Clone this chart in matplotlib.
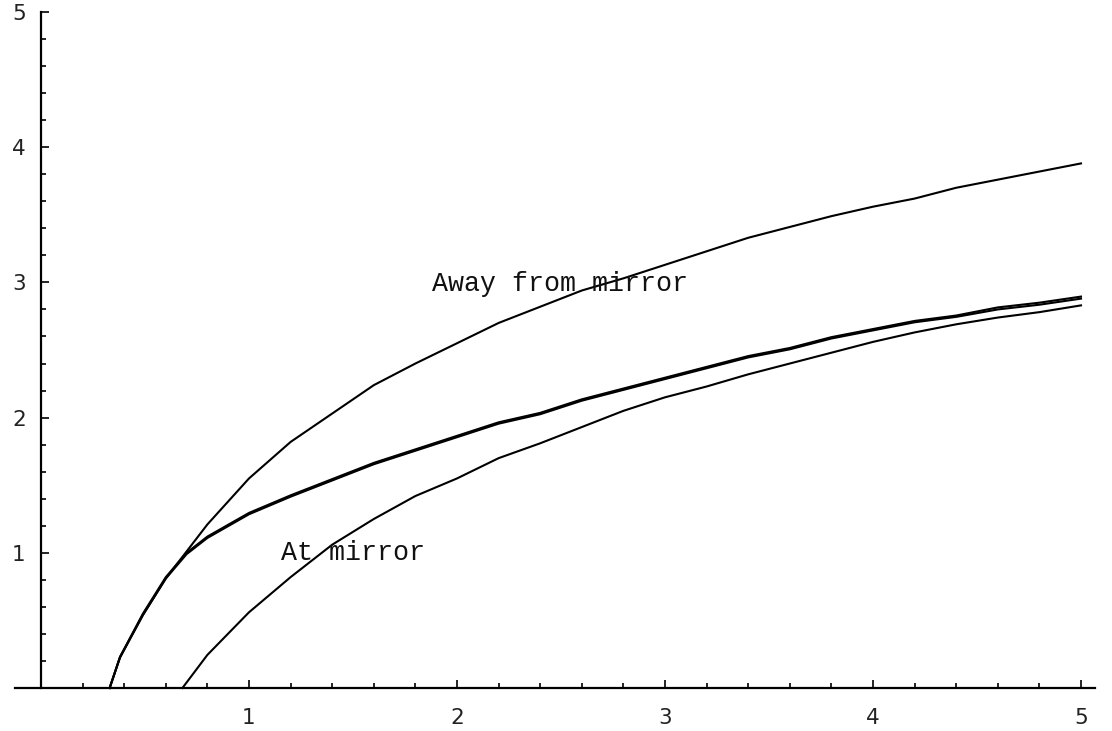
import matplotlib
matplotlib.use("Agg")
import matplotlib.pyplot as plt
from matplotlib.ticker import FixedLocator

# ---- data ----
x_top = [0.33, 0.38, 0.49, 0.60, 0.80, 1.00, 1.20, 1.40, 1.60, 1.80, 2.00, 2.20, 2.40,
         2.60, 2.80, 3.00, 3.20, 3.40, 3.60, 3.80, 4.00, 4.20, 4.40, 4.60, 4.80, 5.00]
y_top = [0.00, 0.23, 0.54, 0.81, 1.21, 1.55, 1.82, 2.03, 2.24, 2.40, 2.55, 2.70, 2.82,
         2.94, 3.03, 3.13, 3.23, 3.33, 3.41, 3.49, 3.56, 3.62, 3.70, 3.76, 3.82, 3.88]

x_mid = [0.33, 0.38, 0.49, 0.60, 0.70, 0.80, 1.00, 1.20, 1.40, 1.60, 1.80, 2.00, 2.20, 2.40,
         2.60, 2.80, 3.00, 3.20, 3.40, 3.60, 3.80, 4.00, 4.20, 4.40, 4.60, 4.80, 5.00]
y_mid1 = [0.00, 0.23, 0.55, 0.82, 1.00, 1.12, 1.295, 1.425, 1.545, 1.665, 1.765, 1.865, 1.965, 2.035,
          2.135, 2.215, 2.295, 2.375, 2.455, 2.515, 2.595, 2.655, 2.715, 2.755, 2.815, 2.85, 2.895]
y_mid2 = [0.00, 0.225, 0.54, 0.81, 0.99, 1.11, 1.285, 1.415, 1.535, 1.655, 1.755, 1.855, 1.955, 2.025,
          2.125, 2.205, 2.285, 2.365, 2.445, 2.505, 2.585, 2.645, 2.705, 2.745, 2.80, 2.835, 2.88]

x_bot = [0.68, 0.80, 1.00, 1.20, 1.40, 1.60, 1.80, 2.00, 2.20, 2.40, 2.60, 2.80, 3.00,
         3.20, 3.40, 3.60, 3.80, 4.00, 4.20, 4.40, 4.60, 4.80, 5.00]
y_bot = [0.00, 0.245, 0.56, 0.82, 1.06, 1.25, 1.42, 1.55, 1.70, 1.81, 1.93, 2.05, 2.15,
         2.23, 2.32, 2.40, 2.48, 2.56, 2.63, 2.69, 2.74, 2.78, 2.83]

label_away = "Away from mirror"
label_at = "At mirror"
major_ticks = [1, 2, 3, 4, 5]
tick_labels = ["1", "2", "3", "4", "5"]

# ---- figure ----
fig = plt.figure(figsize=(11.12, 7.31), dpi=100)
W, H = 1112, 731
x0_px, sx = 41.0, 208.0
y0_px, sy = 688.0, 135.2
xmin, xmax = -0.125, 5.065
ymin, ymax = 0.0, 5.0
left = (x0_px + xmin * sx) / W
width = (xmax - xmin) * sx / W
bottom = (H - y0_px) / H
height = (ymax - ymin) * sy / H
ax = fig.add_axes([left, bottom, width, height])
ax.set_xlim(xmin, xmax)
ax.set_ylim(ymin, ymax)

lw = 1.5
ax.plot(x_top, y_top, color="black", lw=lw, clip_on=False)
ax.plot(x_mid, y_mid1, color="black", lw=lw, clip_on=False)
ax.plot(x_mid, y_mid2, color="black", lw=lw, clip_on=False)
ax.plot(x_bot, y_bot, color="black", lw=lw, clip_on=False)

mono = ["Liberation Mono", "DejaVu Sans Mono"]
ax.text(1.88, 2.99, label_away, family=mono, fontsize=19.2, va="center", ha="left",
        color="#111111")
ax.text(1.155, 1.0, label_at, family=mono, fontsize=19.2, va="center", ha="left",
        color="#111111")

# spines
for s in ["top", "right"]:
    ax.spines[s].set_visible(False)
ax.spines["left"].set_position(("data", 0))
ax.spines["bottom"].set_position(("data", 0))
ax.spines["left"].set_linewidth(1.6)
ax.spines["bottom"].set_linewidth(1.6)

minor = [i * 0.2 for i in range(1, 26) if i % 5 != 0]
ax.xaxis.set_major_locator(FixedLocator(major_ticks))
ax.yaxis.set_major_locator(FixedLocator(major_ticks))
ax.xaxis.set_minor_locator(FixedLocator(minor))
ax.yaxis.set_minor_locator(FixedLocator(minor))
ax.set_xticklabels(tick_labels)
ax.set_yticklabels(tick_labels)

ax.tick_params(axis="both", which="major", direction="in", length=5.5, width=1.2,
               labelsize=15.5, labelcolor="#222222")
ax.tick_params(axis="both", which="minor", direction="in", length=3.6, width=1.2)
ax.tick_params(axis="x", which="major", pad=14.5)
ax.tick_params(axis="y", which="major", pad=11)
for lab in ax.get_xticklabels() + ax.get_yticklabels():
    lab.set_family("DejaVu Sans")

ax.patch.set_alpha(0)
fig.savefig("out.png", dpi=100, facecolor="white")
